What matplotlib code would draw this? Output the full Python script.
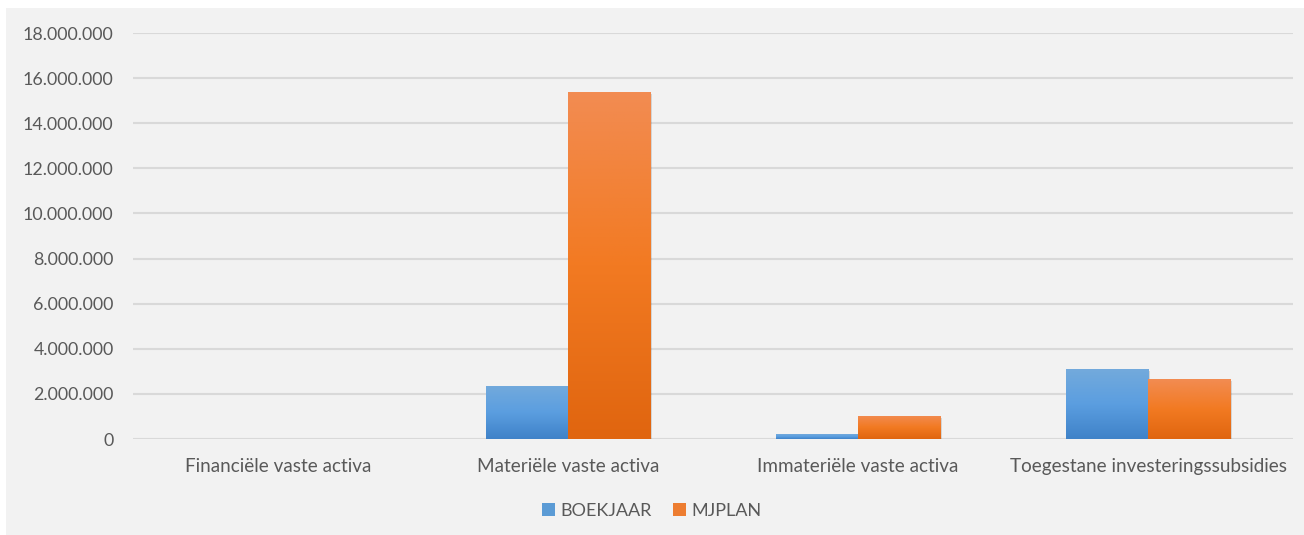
import numpy as np
import matplotlib
matplotlib.use("Agg")
import matplotlib.pyplot as plt
from matplotlib.ticker import FuncFormatter, MultipleLocator
from matplotlib.colors import LinearSegmentedColormap
from matplotlib.patches import Rectangle
import matplotlib.patheffects as pe

categories = ["Financiële vaste activa", "Materiële vaste activa",
              "Immateriële vaste activa", "Toegestane investeringssubsidies"]
boekjaar = [0, 2350000, 220000, 3100000]
mjplan = [0, 15380000, 1020000, 2660000]
series_names = ["BOEKJAAR", "MJPLAN"]

plt.rcParams['font.family'] = ['Lato', 'DejaVu Sans']
text_color = "#595959"
bg = "#f2f2f2"

fig = plt.figure(figsize=(13.04, 5.35), dpi=100)
fig.patch.set_facecolor("white")
fig.patches.append(Rectangle((6/1304, 0), 1 - 6/1304, 1 - 8/535, transform=fig.transFigure,
                             facecolor=bg, edgecolor="none", zorder=-10))
ax = fig.add_axes([133/1304, 1 - 439/535, (1293 - 133)/1304, (439 - 33)/535])
ax.set_facecolor("none")

x = np.arange(len(categories))
w = 0.283
blue_cmap = LinearSegmentedColormap.from_list("b", ["#3f82c8", "#5b9ee0", "#73aadc"])
orange_cmap = LinearSegmentedColormap.from_list("o", ["#e0650f", "#f27a22", "#f28c52"])

def grad_bars(xs, vals, cmap, label, solid):
    bars = ax.bar(xs, vals, w, color=solid, label=label, zorder=3,
                  path_effects=[pe.SimplePatchShadow(offset=(1.5, -1.5), shadow_rgbFace="#000000", alpha=0.12), pe.Normal()])
    grad = np.linspace(0, 1, 256).reshape(-1, 1)
    for b in bars:
        h = b.get_height()
        if h <= 0:
            continue
        x0 = b.get_x()
        im = ax.imshow(grad, cmap=cmap, aspect="auto", origin="lower",
                       extent=[x0, x0 + b.get_width(), 0, h], zorder=4)
        im.set_clip_path(b)
    return bars

grad_bars(x - w/2, boekjaar, blue_cmap, series_names[0], "#5b9bd5")
grad_bars(x + w/2, mjplan, orange_cmap, series_names[1], "#ed7d31")

ax.set_xlim(-0.5, len(categories) - 0.5)
ax.set_ylim(0, 18000000)
ax.yaxis.set_major_locator(MultipleLocator(2000000))
ax.yaxis.set_major_formatter(FuncFormatter(lambda v, p: f"{int(v):,}".replace(",", ".")))
ax.grid(axis="y", color="#d9d9d9", linewidth=1.5, zorder=0)
ax.set_axisbelow(True)
for s in ax.spines.values():
    s.set_visible(False)
ax.tick_params(axis="both", length=0, colors=text_color)
ax.tick_params(axis="y", pad=14, labelsize=12.8)
ax.set_xticks(x)
ax.set_xticklabels(categories)
ax.tick_params(axis="x", pad=14, labelsize=13.6)

handles = [Rectangle((0, 0), 1, 1, facecolor="#5b9bd5"), Rectangle((0, 0), 1, 1, facecolor="#ed7d31")]
fig.legend(handles, series_names, loc="center", bbox_to_anchor=(0.5, 1 - 511/535), ncol=2,
           frameon=False, fontsize=13, labelcolor=text_color, handlelength=0.7, handleheight=0.7,
           handletextpad=0.3, columnspacing=1.2)

fig.savefig("out.png", dpi=100, facecolor=fig.get_facecolor())
